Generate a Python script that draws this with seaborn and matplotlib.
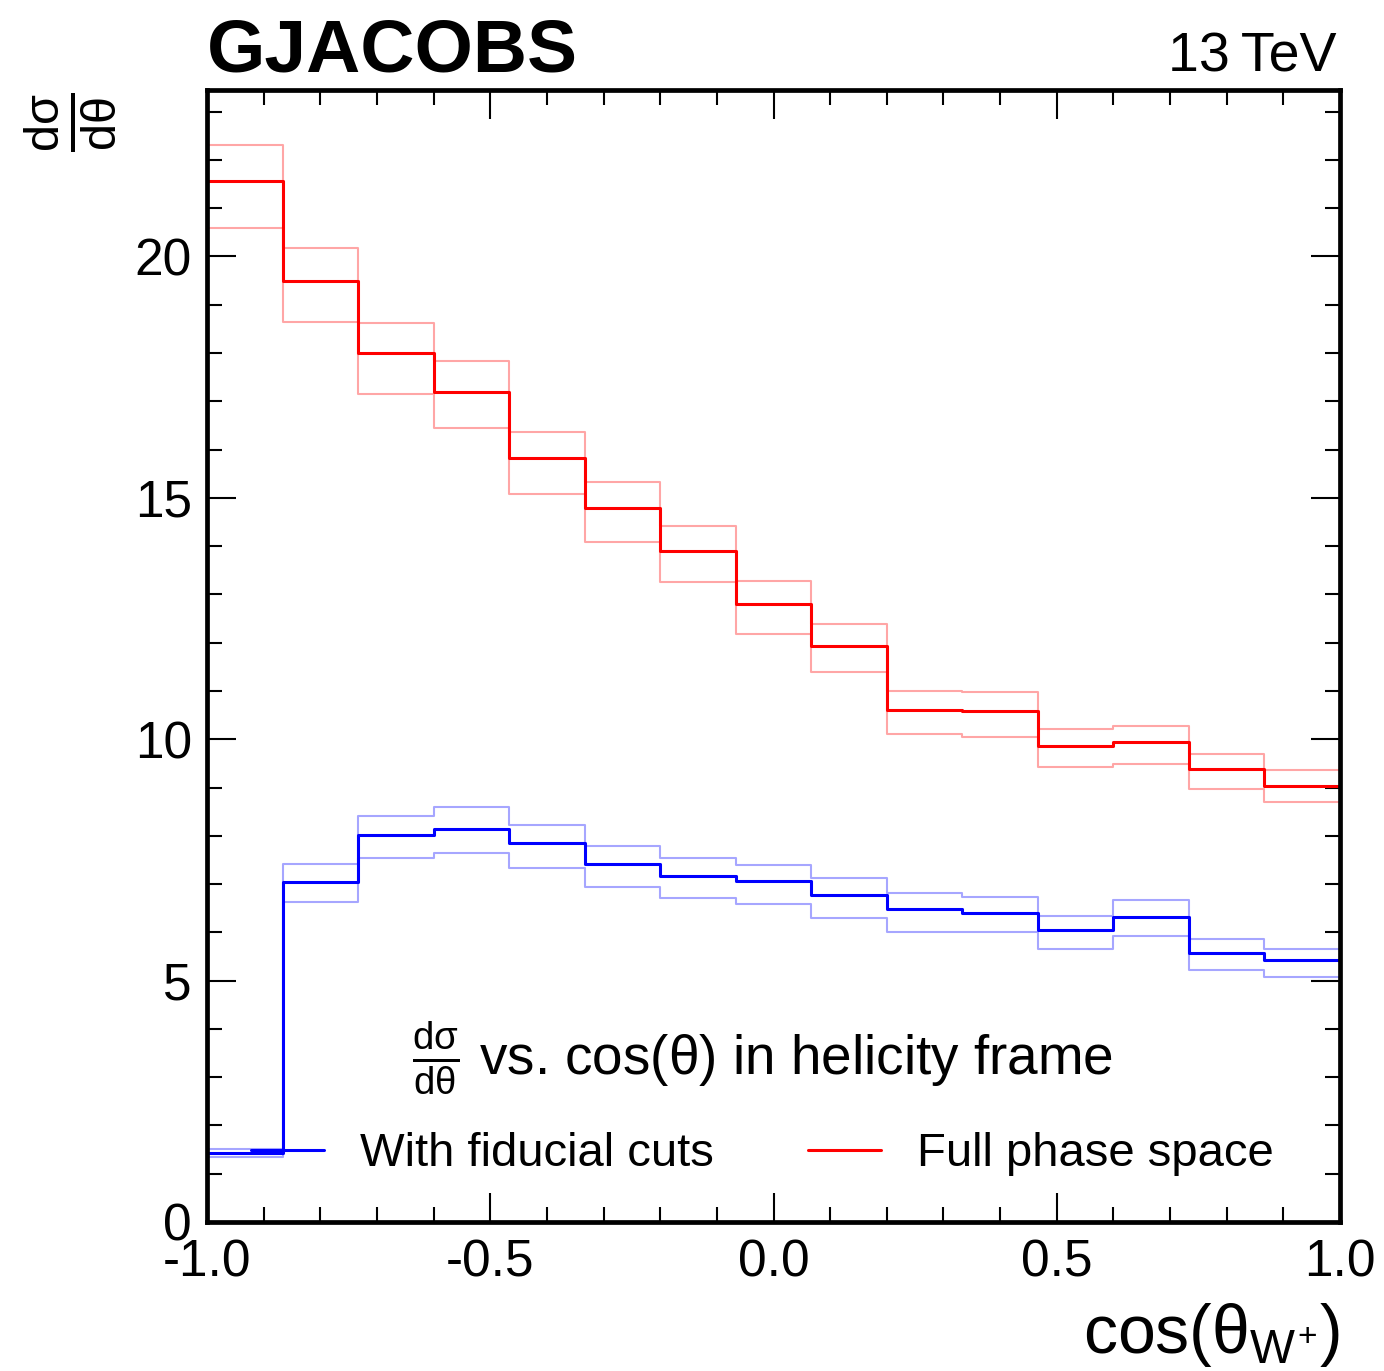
import matplotlib
matplotlib.use('Agg')
import matplotlib.pyplot as plt
import matplotlib.ticker as mticker
import numpy as np
import seaborn as sns

# bin edges of cos(theta_W+), 15 bins
edges = [-1.0, -0.8667, -0.7333, -0.6, -0.4667, -0.3333, -0.2, -0.0667,
         0.0667, 0.2, 0.3333, 0.4667, 0.6, 0.7333, 0.8667, 1.0]

# full phase space (red)
full_val = [21.57, 19.50, 18.01, 17.20, 15.82, 14.78, 13.89, 12.81,
            11.94, 10.60, 10.58, 9.86, 9.94, 9.38, 9.03]
full_up = [22.30, 20.17, 18.63, 17.83, 16.36, 15.32, 14.41, 13.27,
           12.38, 10.99, 10.97, 10.21, 10.27, 9.69, 9.36]
full_dn = [20.60, 18.65, 17.16, 16.44, 15.07, 14.08, 13.25, 12.19,
           11.40, 10.10, 10.04, 9.42, 9.48, 8.96, 8.70]

# with fiducial cuts (blue)
fid_val = [1.43, 7.04, 8.02, 8.14, 7.85, 7.41, 7.16, 7.06,
           6.77, 6.48, 6.40, 6.05, 6.31, 5.57, 5.42]
fid_up = [1.51, 7.41, 8.41, 8.59, 8.22, 7.78, 7.54, 7.39,
          7.12, 6.81, 6.73, 6.34, 6.67, 5.86, 5.65]
fid_dn = [1.35, 6.63, 7.54, 7.64, 7.33, 6.94, 6.71, 6.58,
          6.29, 6.00, 6.00, 5.65, 5.92, 5.22, 5.07]

sns.set_theme(style='ticks')
plt.rcParams['font.family'] = ['Liberation Sans', 'DejaVu Sans']
plt.rcParams['mathtext.fontset'] = 'custom'
plt.rcParams['mathtext.rm'] = 'Liberation Sans'
plt.rcParams['mathtext.it'] = 'Liberation Sans'
plt.rcParams['mathtext.bf'] = 'Liberation Sans:bold'
plt.rcParams['axes.unicode_minus'] = False
plt.rcParams['text.color'] = 'black'
plt.rcParams['axes.labelcolor'] = 'black'
plt.rcParams['xtick.color'] = 'black'
plt.rcParams['ytick.color'] = 'black'


def step(ax, vals, color, lw, alpha=1.0, label=None):
    y = np.append(vals, vals[-1])
    sns.lineplot(x=edges, y=y, ax=ax, color=color, linewidth=lw, alpha=alpha,
                 drawstyle='steps-post', estimator=None, errorbar=None,
                 label=label, legend=False)


fig = plt.figure(figsize=(13.84, 13.71), dpi=100)
ax = fig.add_axes([0.1496, 0.1087, 0.8186, 0.8257])

for band in (full_up, full_dn):
    step(ax, band, '#ff0000', 1.5, alpha=0.35)
for band in (fid_up, fid_dn):
    step(ax, band, '#0000ff', 1.5, alpha=0.35)
step(ax, full_val, '#ff0000', 2.2, label='Full phase space')
step(ax, fid_val, '#0000ff', 2.2, label='With fiducial cuts')

ax.set_xlim(-1, 1)
ax.set_ylim(0, 23.45)

ax.xaxis.set_major_locator(mticker.MultipleLocator(0.5))
ax.xaxis.set_minor_locator(mticker.MultipleLocator(0.1))
ax.xaxis.set_major_formatter(mticker.FormatStrFormatter('%.1f'))
ax.yaxis.set_major_locator(mticker.MultipleLocator(5))
ax.yaxis.set_minor_locator(mticker.MultipleLocator(1))

ax.tick_params(which='both', direction='in', top=True, right=True,
               width=1.5, colors='black', labelsize=37)
ax.tick_params(which='major', length=21)
ax.tick_params(which='minor', length=10.5)
ax.tick_params(axis='x', pad=12)
ax.tick_params(axis='y', pad=11)
for sp in ax.spines.values():
    sp.set_linewidth(3.4)
    sp.set_color('black')

ax.set_xlabel(r'cos($\theta_{W^{+}}$)', fontsize=49, loc='right')
ax.xaxis.set_label_coords(1.0, -0.070)
ax.set_ylabel(r'$\frac{dσ}{dθ}$', fontsize=50, loc='top')
ax.yaxis.set_label_coords(-0.079, 0.997)

ax.text(0.0, 1.016, 'GJACOBS', transform=ax.transAxes, fontsize=54,
        fontweight='bold', ha='left', va='baseline')
ax.text(0.997, 1.016, '13\u2009TeV', transform=ax.transAxes, fontsize=40,
        ha='right', va='baseline', family=['Liberation Sans', 'DejaVu Sans'])

lines = {l.get_label(): l for l in ax.get_lines()}
handles = [lines['With fiducial cuts'], lines['Full phase space']]
leg = ax.legend(handles=handles, labels=['With fiducial cuts', 'Full phase space'],
                ncol=2, frameon=False, fontsize=34,
                title=r'$\frac{dσ}{dθ}$ vs. cos(θ) in helicity frame',
                title_fontsize=39.5, loc='lower center',
                bbox_to_anchor=(0.49, 0.003), handlelength=1.55,
                handletextpad=0.75, columnspacing=2.0, labelspacing=0.75)

fig.savefig('out.png', dpi=100)
